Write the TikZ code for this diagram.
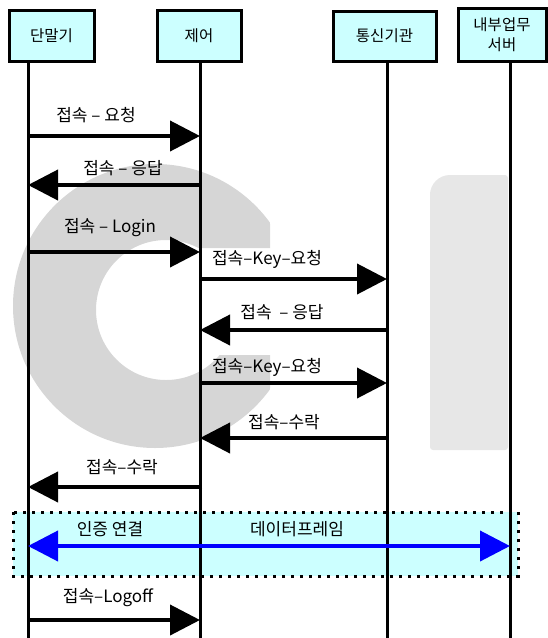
\documentclass[tikz,border=0pt]{standalone}
\usepackage{fontspec}
\setmainfont{Noto Sans CJK KR}
\usetikzlibrary{arrows.meta}

\definecolor{boxcyan}{RGB}{204,255,255}
\definecolor{markgray}{RGB}{214,214,214}
\definecolor{marklight}{RGB}{231,231,231}
\definecolor{linkblue}{RGB}{0,0,255}

\begin{document}
\begin{tikzpicture}[x=1pt,y=-1pt,
  head/.style={draw=black,line width=3pt,fill=boxcyan,inner sep=0pt,
    font=\fontsize{15.5}{20}\selectfont,align=center},
  life/.style={line width=3pt},
  msg/.style={line width=4pt,-{Triangle[length=30pt,width=30pt]}},
  link/.style={draw=linkblue,line width=4pt,
    {Triangle[length=30pt,width=30pt]}-{Triangle[length=30pt,width=30pt]}},
  lab/.style={font=\fontsize{17}{19}\selectfont,inner sep=0pt},
  band/.style={fill=boxcyan,draw=black,line width=3pt,dash pattern=on 3pt off 6pt},
]
\useasboundingbox (0,0) rectangle (547,638);

% background logo: ring and bar
\begin{scope}
  \clip (0,100) -- (270,100) -- (270,248) -- (192,248) -- (192,355)
        -- (270,355) -- (270,520) -- (0,520) -- cycle;
  \fill[markgray,even odd rule] (155,306) circle[radius=142]
                                (166,310) circle[radius=70];
\end{scope}
\fill[marklight,rounded corners=3pt] (430,450) -- (430,195)
  [rounded corners=20pt] -- (430,175) [rounded corners=3pt] -- (508,175) -- (508,450) -- cycle;

% participants
\node[head,minimum width=85pt,minimum height=51pt] (h1) at (51.5,35.5) {단말기};
\node[head,minimum width=84pt,minimum height=51pt] (h2) at (199,35.5) {제어};
\node[head,minimum width=103pt,minimum height=50pt] (h3) at (384.5,36) {통신기관};
\node[head,minimum width=88pt,minimum height=53pt] (h4) at (502,34.5) {내부업무\\서버};

\coordinate (e1) at (28,638);
\coordinate (e2) at (200,638);
\coordinate (e3) at (387,638);
\coordinate (e4) at (510,638);

% shared data-frame band
\path[band] (13,512) rectangle (518,576);

% lifelines
\foreach \i in {1,...,4}
  \draw[life] (h\i.south -| e\i) -- (e\i);

% message rows
\coordinate (m1) at (0,136);
\coordinate (m2) at (0,185);
\coordinate (m3) at (0,252);
\coordinate (m4) at (0,279);
\coordinate (m5) at (0,330);
\coordinate (m6) at (0,383);
\coordinate (m7) at (0,438);
\coordinate (m8) at (0,487);
\coordinate (m9) at (0,546);
\coordinate (m10) at (0,620);

\draw[msg] (e1 |- m1) -- (e2 |- m1);
\node[lab] (t1) at (96,115) {접속 – 요청};

\draw[msg] (e2 |- m2) -- (e1 |- m2);
\node[lab] (t2) at (123,168) {접속 – 응답};

\draw[msg] (e1 |- m3) -- (e2 |- m3);
\node[lab] (t3) at (110,228) {접속 – Login};

\draw[msg] (e2 |- m4) -- (e3 |- m4);
\node[lab] (t4) at (267,259) {접속–Key–요청};

\draw[msg] (e3 |- m5) -- (e2 |- m5);
\node[lab] (t5) at (282,312) {접속 \ – 응답};

\draw[msg] (e2 |- m6) -- (e3 |- m6);
\node[lab] (t6) at (267,367) {접속–Key–요청};

\draw[msg] (e3 |- m7) -- (e2 |- m7);
\node[lab] (t7) at (284,422) {접속–수락};

\draw[msg] ([xshift=2pt]e2 |- m8) -- (e1 |- m8);
\node[lab] (t8) at (122,467) {접속–수락};

\draw[link] (e1 |- m9) -- (e4 |- m9);
\node[lab] (t9) at (110,529) {인증 연결};
\node[lab] (t10) at (297,529) {데이터프레임};

\draw[msg] (e1 |- m10) -- (e2 |- m10);
\node[lab] (t11) at (108,598) {접속–Logoff};
\end{tikzpicture}
\end{document}
